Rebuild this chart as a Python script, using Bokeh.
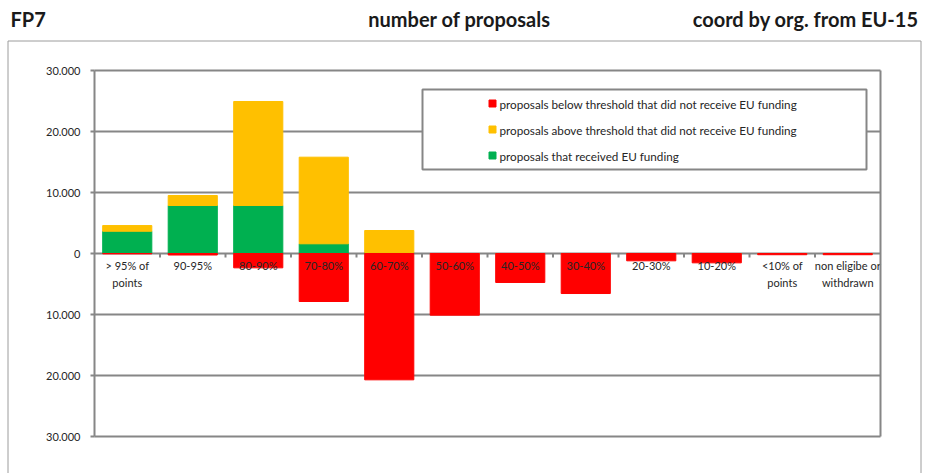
from bokeh.plotting import figure
from bokeh.models import (ColumnDataSource, Range1d, FixedTicker, CustomJSTickFormatter,
                          Label, BoxAnnotation, LinearAxis)
from bokeh.core.properties import value
from bokeh.embed import file_html
from bokeh.resources import INLINE

# ---- data ----
categories = ["> 95% of\npoints", "90-95%", "80-90%", "70-80%", "60-70%", "50-60%",
              "40-50%", "30-40%", "20-30%", "10-20%", "<10% of\npoints", "non eligibe or\nwithdrawn"]
funded = [3650, 7870, 7870, 1590, 150, 0, 0, 0, 0, 0, 0, 0]
above_threshold = [930, 1640, 17050, 14200, 3620, 0, 0, 0, 0, 0, 0, 0]
below_threshold = [60, 250, 2350, 7870, 20710, 10110, 4750, 6560, 1200, 1530, 200, 200]
y_ticks = [-30000, -20000, -10000, 0, 10000, 20000, 30000]
legend_labels = ["proposals below threshold that did not receive EU funding",
                 "proposals above threshold that did not receive EU funding",
                 "proposals that received EU funding"]
titles = ["FP7", "number of proposals", "coord by org. from EU-15"]

RED, YELLOW, GREEN = "#FF0000", "#FFC000", "#00B050"
GRAY = "#868686"
FONT = "Lato"

# ---- layout geometry (page pixels) ----
W_PX, H_PX = 933, 473
PLOT_L, PLOT_R, PLOT_T, PLOT_B = 94, 880, 70, 436
n = len(categories)
YMIN, YMAX = y_ticks[0], y_ticks[-1]
sx = (PLOT_R - PLOT_L) / n            # px per category
sy = (PLOT_B - PLOT_T) / (YMAX - YMIN)  # px per unit
zero_px = PLOT_T + YMAX * sy


def X(px):
    return (px - PLOT_L) / sx


def Y(py):
    return (zero_px - py) / sy


xs = [i + 0.5 for i in range(n)]
src = ColumnDataSource(dict(
    x=xs, cat=categories,
    funded=funded,
    top_above=[f + a for f, a in zip(funded, above_threshold)],
    neg=[-b for b in below_threshold],
    zero=[0] * n,
))

p = figure(width=W_PX, height=H_PX, output_backend="svg", toolbar_location=None,
           x_range=Range1d(X(0), X(W_PX)), y_range=Range1d(Y(H_PX), Y(0)),
           min_border=0, min_border_left=0, min_border_right=0,
           min_border_top=0, min_border_bottom=0)
p.title.visible = False
p.xaxis.visible = False
p.grid.visible = False
p.outline_line_color = None

# outer chart border
p.add_layout(BoxAnnotation(left=X(7.5), right=X(920.5), top=Y(40.5), bottom=Y(H_PX + 20),
                           fill_alpha=0, line_color="#9C9C9C", line_alpha=1.0, line_width=1,
                           level="underlay"))

# horizontal gridlines (from the tick values)
p.segment(x0=[0] * len(y_ticks), x1=[n] * len(y_ticks), y0=y_ticks, y1=y_ticks,
          line_color=GRAY, line_width=2, level="underlay")

# left value axis, fixed at the plot-area edge
yax = p.yaxis[0]
yax.fixed_location = 0
yax.bounds = (YMIN, YMAX)
yax.ticker = FixedTicker(ticks=y_ticks)
yax.formatter = CustomJSTickFormatter(
    code="const v = Math.abs(tick); return v.toString().replace(/\\B(?=(\\d{3})+(?!\\d))/g, '.');")
yax.axis_line_color = GRAY
yax.axis_line_width = 2
yax.major_tick_line_color = GRAY
yax.major_tick_line_width = 2
yax.major_tick_out = 4
yax.major_tick_in = 0
yax.minor_tick_line_color = None
yax.major_label_standoff = 10
yax.major_label_text_font = FONT
yax.major_label_text_font_size = "11px"
yax.major_label_text_color = "#262626"

# right edge of the plot area
rax = LinearAxis(fixed_location=n, bounds=(YMIN, YMAX), ticker=FixedTicker(ticks=[]),
                 axis_line_color=GRAY, axis_line_width=2,
                 major_tick_line_color=None, minor_tick_line_color=None,
                 major_label_text_font_size="0px")
p.add_layout(rax, "right")

# bars
BW = 0.75
p.vbar(x="x", bottom="zero", top="funded", width=BW, color=GREEN, source=src)
p.vbar(x="x", bottom="funded", top="top_above", width=BW, color=YELLOW, source=src)
p.vbar(x="x", bottom="neg", top="zero", width=BW, color=RED, source=src)

# x tick marks at category boundaries below zero line
bx = list(range(1, n))
p.segment(x0=bx, x1=bx, y0=[0] * len(bx), y1=[-4 / sy] * len(bx), line_color=GRAY, line_width=2)

# category labels
p.text(x="x", y=-5.5 / sy, text="cat", source=src, text_font=value(FONT), text_font_size="11px",
       text_align="center", text_baseline="top", text_color="#262626", text_line_height=1.3)

# legend (manual, wide box)
p.quad(left=[X(422)], right=[X(866)], top=[Y(89)], bottom=[Y(169)],
       fill_color="white", line_color=GRAY, line_width=2)
leg_colors = [RED, YELLOW, GREEN]
leg_y = [Y(103), Y(129), Y(155)]
p.scatter(x=[X(492)] * 3, y=leg_y, marker="square", size=7, color=leg_colors)
p.text(x=[X(499)] * 3, y=leg_y, text=legend_labels, text_font=value(FONT), text_font_size="11.7px",
       text_baseline="middle", text_color="#262626")

# header titles
for txt, xpos, align in zip(titles, [10, 459, 918], ["left", "center", "right"]):
    p.add_layout(Label(x=X(xpos), y=Y(18.5), text=txt, text_font=FONT, text_font_size="20px",
                       text_font_style="bold", text_baseline="middle", text_align=align,
                       text_color="#1a1a1a"))

open("out.html", "w").write(file_html(p, INLINE))
